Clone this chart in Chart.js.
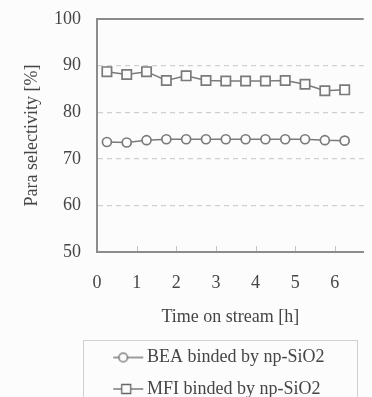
<!DOCTYPE html>
<html>
<head>
<meta charset="utf-8">
<script src="https://cdn.jsdelivr.net/npm/chart.js@4.4.1/dist/chart.umd.min.js"></script>
<style>
  html, body { margin: 0; padding: 0; background: #fcfcfc; overflow: hidden; }
  #wrap { position: relative; width: 372px; height: 408px; }
</style>
</head>
<body>
<div id="wrap"><canvas id="c" width="372" height="408"></canvas></div>
<script>
// ---- data ----
const timesOnStream = [0.25, 0.75, 1.25, 1.75, 2.25, 2.75, 3.25, 3.75, 4.25, 4.75, 5.25, 5.75, 6.25];
const beaSelectivity = [73.6, 73.5, 74.0, 74.2, 74.2, 74.2, 74.2, 74.2, 74.2, 74.2, 74.2, 74.0, 73.9];
const mfiSelectivity = [88.7, 88.1, 88.7, 86.8, 87.8, 86.8, 86.7, 86.7, 86.7, 86.8, 86.0, 84.6, 84.8];
const seriesNames = ['BEA binded by np-SiO2', 'MFI binded by np-SiO2'];
const xTickValues = [0, 1, 2, 3, 4, 5, 6];
const yTickValues = [50, 60, 70, 80, 90, 100];
const xTitle = 'Time on stream [h]';
const yTitle = 'Para selectivity [%]';

const SERIF = "'Liberation Serif', 'Times New Roman', serif";
const TEXT = '#454545';
const MARK = '#7a7a7a';

Chart.defaults.font.family = SERIF;
Chart.defaults.font.size = 18;
Chart.defaults.color = TEXT;

function legendSymbol(kind) {
  const cv = document.createElement('canvas');
  cv.width = 42; cv.height = 14;
  const g = cv.getContext('2d');
  g.strokeStyle = '#666'; g.lineWidth = 1.3;
  g.beginPath(); g.moveTo(10, 7); g.lineTo(40, 7); g.stroke();
  g.fillStyle = '#fcfcfc';
  g.beginPath();
  if (kind === 'circle') { g.arc(20, 7, 4.3, 0, Math.PI * 2); }
  else { g.rect(18.5, 2.5, 9, 9); }
  g.fill(); g.stroke();
  return cv;
}
const legendSymbols = [legendSymbol('circle'), legendSymbol('rect')];

const framePlugin = {
  id: 'frame',
  afterDraw(chart) {
    const {ctx, chartArea} = chart;
    const xs = chart.scales.x;
    ctx.save();
    ctx.strokeStyle = '#8c8c8c'; ctx.lineWidth = 2;
    ctx.beginPath(); ctx.moveTo(chartArea.left - 1, chartArea.top); ctx.lineTo(chartArea.right, chartArea.top); ctx.stroke();
    ctx.strokeStyle = '#c4c4c4'; ctx.lineWidth = 1;
    xTickValues.forEach(v => {
      if (v === 0) return;
      const px = Math.round(xs.getPixelForValue(v)) + 0.5;
      ctx.beginPath(); ctx.moveTo(px, chartArea.bottom - 1); ctx.lineTo(px, chartArea.bottom - 6); ctx.stroke();
    });
    const lg = chart.legend;
    ctx.strokeStyle = '#d0d0d0'; ctx.lineWidth = 1;
    ctx.strokeRect(83.5, lg.top + 5.5, 274, 80);
    ctx.restore();
  }
};

const ctx = document.getElementById('c').getContext('2d');
new Chart(ctx, {
  type: 'line',
  data: {
    datasets: [
      {
        label: seriesNames[0],
        data: timesOnStream.map((t, i) => ({x: t, y: beaSelectivity[i]})),
        borderColor: MARK, borderWidth: 1.5,
        pointStyle: 'circle', pointRadius: 4.5,
        pointBackgroundColor: '#fcfcfc', pointBorderColor: MARK, pointBorderWidth: 1.7,
        tension: 0
      },
      {
        label: seriesNames[1],
        data: timesOnStream.map((t, i) => ({x: t, y: mfiSelectivity[i]})),
        borderColor: MARK, borderWidth: 1.5,
        pointStyle: 'rect', pointRadius: 6.6,
        pointBackgroundColor: '#fcfcfc', pointBorderColor: MARK, pointBorderWidth: 1.7,
        tension: 0
      }
    ]
  },
  options: {
    responsive: false,
    animation: false,
    layout: { padding: { left: 0, right: 0, top: 19, bottom: 0 } },
    scales: {
      x: {
        type: 'linear', min: 0, max: 6.73,
        afterBuildTicks: (s) => { s.ticks = xTickValues.map(v => ({value: v})); },
        afterFit: (s) => { s.height = 83; },
        ticks: { padding: 22, font: { size: 18, lineHeight: 1 }, color: TEXT, includeBounds: false },
        grid: { display: false, drawTicks: false },
        border: { display: true, color: '#8c8c8c', width: 2 },
        title: { display: true, text: xTitle, font: { size: 18, lineHeight: 1 }, color: TEXT, padding: { top: 0, bottom: 9 } }
      },
      y: {
        min: 50, max: 100,
        afterBuildTicks: (s) => { s.ticks = yTickValues.map(v => ({value: v})); },
        afterFit: (s) => { s.width = 97; s.paddingTop = 0; s.paddingBottom = 0; },
        ticks: { padding: 16, font: { size: 18, lineHeight: 1 }, color: TEXT },
        grid: {
          drawTicks: false,
          color: (c) => (c.tick && (c.tick.value === 50 || c.tick.value === 100)) ? 'rgba(0,0,0,0)' : '#cfcfcf',
          lineWidth: 1.3
        },
        border: { display: true, color: '#8c8c8c', width: 2, dash: [5, 4] },
        title: { display: true, text: yTitle, font: { size: 18, lineHeight: 1 }, color: TEXT, padding: { top: 23, bottom: 0 } }
      }
    },
    plugins: {
      legend: {
        position: 'bottom', align: 'start', fullSize: false,
        labels: {
          usePointStyle: true, pointStyleWidth: 27.5, padding: 13.5,
          font: { size: 18 }, color: TEXT,
          generateLabels: () => seriesNames.map((n, i) => ({
            text: n, pointStyle: legendSymbols[i], datasetIndex: i,
            fillStyle: '#fff', strokeStyle: '#666', lineWidth: 1, hidden: false, fontColor: TEXT
          }))
        }
      },
      tooltip: { enabled: false }
    }
  },
  plugins: [framePlugin]
});
</script>
</body>
</html>
